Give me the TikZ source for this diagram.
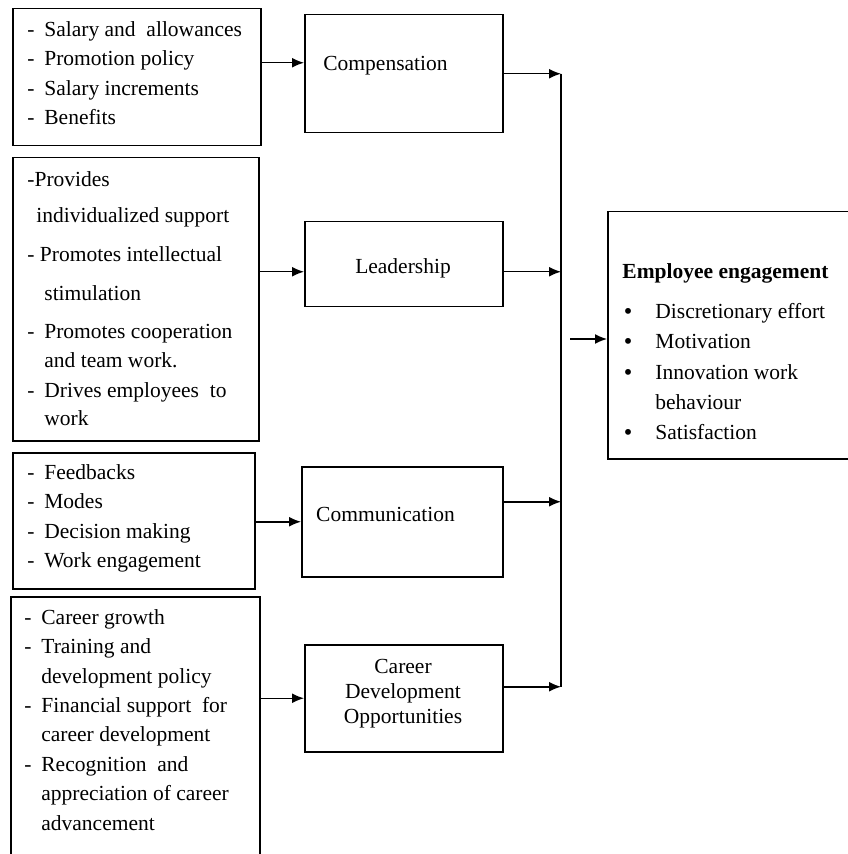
\documentclass[tikz,border=0pt]{standalone}
\usepackage{fontspec}
\setmainfont{Liberation Serif}
\usetikzlibrary{arrows.meta,positioning,calc}

\newcommand{\dashitem}{\makebox[8.5pt][l]{-}}
\newcommand{\hangin}{\hspace*{8.5pt}}
\newcommand{\bulitem}{\hspace*{1pt}\makebox[15.5pt][l]{\textbf{\textbullet}}}

\begin{document}
\begin{tikzpicture}[
    x=0.5pt, y=-0.5pt,
    font=\fontsize{10.75}{14.7}\selectfont,
    box/.style={draw, line width=0.75pt, inner sep=0pt, anchor=north west},
    midbox/.style={box, align=center},
    list/.style={inner sep=0pt, align=left},
    boxlabel/.style={inner sep=0pt, align=center, font=\fontsize{10.75}{12.5}\selectfont},
    arrow/.style={-{Latex[length=6pt,width=5pt]}, line width=0.75pt},
    bus/.style={line width=0.75pt}
  ]
  \useasboundingbox (0,0) rectangle (847,854);

  % Factor boxes
  \node[box, minimum width=124pt, minimum height=68.5pt] (payList) at (12,8) {};
  \node[box, minimum width=123pt, minimum height=141.5pt] (leadList) at (12,157) {};
  \node[box, minimum width=121pt, minimum height=68pt] (commList) at (12,452) {};
  \node[box, minimum width=124.5pt, minimum height=140pt] (careerList) at (10,596) {};

  % Factor items
  \node[list, below right=3.7pt and 7.5pt of payList.north west] (payText)
    {\strut\dashitem Salary and\ \ allowances\\
     \dashitem Promotion policy\\
     \dashitem Salary increments\\
     \dashitem Benefits};
  \node[list, below right=4.2pt and 7.5pt of leadList.north west] (leadText)
    {\strut -Provides\\[3.3pt]
     \hspace*{4.5pt}individualized support\\[4.8pt]
     - Promotes intellectual\\[4.8pt]
     \hangin stimulation\\[4.3pt]
     \dashitem Promotes cooperation\\
     \hangin and team work.\\
     \dashitem Drives employees\ \ to\\[-0.7pt]
     \hangin work};
  \node[list, below right=3.2pt and 7.5pt of commList.north west] (commText)
    {\strut\dashitem Feedbacks\\
     \dashitem Modes\\
     \dashitem Decision making\\
     \dashitem Work engagement};
  \node[list, below right=3.7pt and 7pt of careerList.north west] (careerText)
    {\strut\dashitem Career growth\\
     \dashitem Training and\\
     \hangin development policy\\
     \dashitem Financial support\ \ for\\
     \hangin career development\\
     \dashitem Recognition\ \ and\\
     \hangin appreciation of career\\
     \hangin advancement};

  % Factors
  \node[midbox, minimum width=99pt, minimum height=59pt] (comp) at (304,14) {};
  \node[boxlabel] (compLabel) at (385.5,66) {Compensation};
  \node[midbox, minimum width=99pt, minimum height=42.5pt] (lead) at (304,221) {};
  \node[boxlabel] (leadLabel) at (403,268) {Leadership};
  \node[midbox, minimum width=100.5pt, minimum height=55pt] (comm) at (301,466) {};
  \node[boxlabel] (commLabel) at (385.5,514) {Communication};
  \node[midbox, minimum width=99pt, minimum height=53.5pt] (career) at (304,644) {};
  \node[boxlabel] (careerLabel) at (403,694) {Career\\Development\\Opportunities};

  % Outcome
  \node[box, minimum width=125pt, minimum height=123.5pt] (engage) at (607,211) {};
  \node[list, font=\fontsize{10.75}{15.1}\selectfont, below right=23pt and 7.5pt of engage.north west] (engageText)
    {\strut\textbf{Employee engagement}\\[5pt]
     \bulitem Discretionary effort\\
     \bulitem Motivation\\
     \bulitem Innovation work\\
     \hspace*{16.5pt}behaviour\\
     \bulitem Satisfaction};

  % Connections
  \coordinate (compIn) at ($(comp.west)+(0,-11)$);
  \coordinate (leadIn) at ($(lead.west)+(0,7.5)$);
  \draw[arrow] (payList.east |- compIn) -- (compIn);
  \draw[arrow] (leadList.east |- leadIn) -- (leadIn);
  \draw[arrow] (commList.east |- comm) -- (comm.west);
  \draw[arrow] (careerList.east |- career) -- (career.west);

  \coordinate (busTop) at (561,72);
  \coordinate (leadOut) at ($(lead.east)+(0,7.5)$);
  \coordinate (commOut) at ($(comm.east)+(0,-20)$);
  \coordinate (careerOut) at ($(career.east)+(0,-11.5)$);
  \draw[arrow] (comp.east) -- (comp.east -| busTop);
  \draw[arrow] (leadOut) -- (leadOut -| busTop);
  \draw[arrow] (commOut) -- (commOut -| busTop);
  \draw[arrow] (careerOut) -- (careerOut -| busTop);
  \draw[bus] (comp.east -| busTop) -- (careerOut -| busTop);

  \coordinate (busOut) at (570,339);
  \draw[arrow] (busOut) -- (busOut -| engage.west);

\end{tikzpicture}
\end{document}
